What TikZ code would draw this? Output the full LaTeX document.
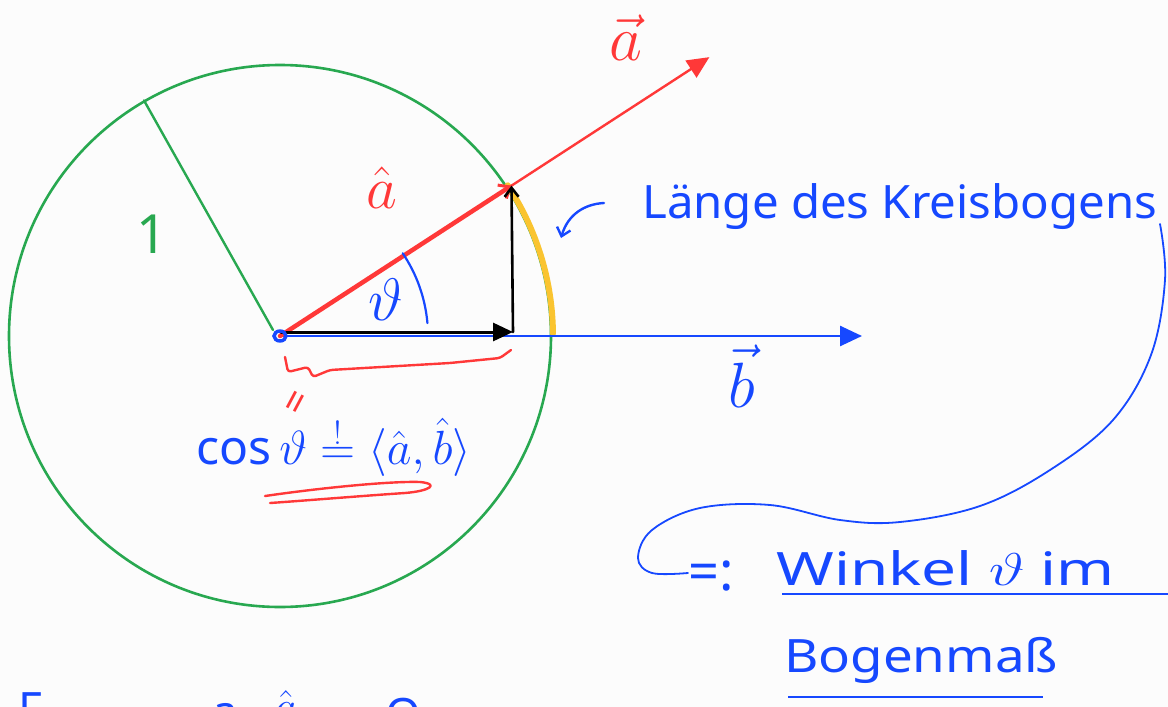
\RequirePackage{fix-cm}
\documentclass[tikz,border=0pt]{standalone}
\usepackage{fontspec}
\setmainfont{Noto Sans}
\usetikzlibrary{arrows.meta,calc}
\definecolor{hgreen}{RGB}{40,168,80}
\definecolor{hred}{RGB}{255,56,56}
\definecolor{hblue}{RGB}{22,72,255}
\definecolor{hyellow}{RGB}{250,196,48}
\definecolor{paper}{RGB}{252,252,252}
\tikzset{
  ink/.style={line cap=round, line join=round},
  bigtxt/.style={font=\fontsize{#1}{#1}\selectfont, inner sep=0pt},
  vecred/.style={ink, hred, line width=2.4pt},
}
\begin{document}
\begin{tikzpicture}[x=1pt,y=-1pt]
\useasboundingbox (0,0) rectangle (1168,707);
\clip (0,0) rectangle (1168,707);
\fill[paper] (0,0) rectangle (1168,707);

% centre and key points
\coordinate (O) at (280,336);
\coordinate (R) at ($(O)+(-120:272)$);
\coordinate (AH) at ($(O)+(-33:276)$);
\coordinate (AT) at ($(O)+(-33:512)$);
\coordinate (P) at (513,332);
\coordinate (BT) at (862,336);

% unit circle and radius
\draw[ink, hgreen, line width=2.6pt] (O) circle (271);
\draw[ink, hgreen, line width=2.4pt] (273,330) -- (R);
\node[bigtxt=54, text=hgreen] (one) at (152,234) {1};

% arc length (yellow)
\draw[ink, hyellow, line width=6pt] ($(O)+(-33.5:273)$) arc[start angle=-33.5, end angle=-0.5, radius=273];

% b axis
\draw[ink, hblue, line width=2.6pt, -{Triangle[length=22pt,width=20pt]}] (O) -- (BT);

% long a vector
\draw[vecred, -{Triangle[length=22pt,width=20pt]}] (O) -- (AT);
% unit vector a-hat
\draw[ink, hred, line width=4.5pt, -{Straight Barb[length=9pt,width=16pt,line width=3pt]}] (O) -- (AH);

% projection
\draw[ink, black, line width=3pt, -{Triangle[length=20pt,width=18pt]}] (281,332) -- (P);
\draw[ink, black, line width=2.6pt, -{Straight Barb[length=9pt,width=14pt]}] (P) -- (AH);

% angle
\draw[ink, hblue, line width=2.2pt] ($(O)+(-34:148)$) arc[start angle=-34, end angle=-5, radius=148];
\node[bigtxt=60, text=hblue] (th) at (386,300) {$\vartheta$};

% centre dot
\draw[hblue, line width=3.4pt] (O) ellipse (6 and 5);

% labels
\node[bigtxt=60, text=hred] (ahat) at (382,188) {$\hat a$};
\node[bigtxt=64, text=hred] (avec) at (626,38) {$\vec a$};
\node[bigtxt=64, text=hblue] (bvec) at (742,376) {$\vec b$};

% brace under projection
\draw[ink, hred, line width=2.4pt, rounded corners=3pt]
  (285,357) -- (288,372) -- (308,367) -- (313,377) -- (330,370) -- (450,363) -- (500,358) -- (511,350);
\node[bigtxt=40, text=hred, rotate=62] (eq) at (299,404) {=};

% formula
\node[bigtxt=48, text=hblue, anchor=west] (cos) at (196,447)
  {cos\,$\vartheta \stackrel{!}{=} \langle \hat a , \hat b \rangle$};
\draw[ink, hred, line width=2.4pt]
  (265,496) .. controls (320,488) and (390,481) .. (420,482)
  .. controls (440,484) and (430,491) .. (405,493)
  .. controls (360,496) and (300,501) .. (270,503);

% arc-length note
\coordinate (L1) at (604,203);
\coordinate (L2) at (561,238);
\draw[ink, hblue, line width=2.4pt, -{Straight Barb[length=8pt,width=14pt]}]
  (L1) .. controls (585,204) and (568,214) .. (L2);
\node[bigtxt=46, text=hblue, anchor=west, xscale=1.03] (laenge) at (642,207) {Länge des Kreisbogens};

\coordinate (C1) at (1160,224);
\coordinate (C2) at (688,573);
\draw[ink, hblue, line width=1.8pt] plot[smooth, tension=0.6] coordinates
  {(C1) (1165,280) (1151,355) (1113,420) (1050,470) (980,506) (900,522) (840,520) (770,505) (700,508) (652,530) (638,558) (652,573) (C2)};

\node[bigtxt=54, text=hblue, anchor=west] (def) at (688,576) {=:};
\node[bigtxt=46, text=hblue, anchor=west, xscale=1.35] (winkel) at (776,568) {Winkel $\vartheta$ im};
\coordinate (U1) at (782,594);
\coordinate (U2) at (1168,594);
\draw[hblue, line width=2.6pt] (U1) -- (U2);
\node[bigtxt=46, text=hblue, anchor=west, xscale=1.15] (bogen) at (784,660) {Bogenmaß};
\coordinate (V1) at (788,697);
\coordinate (V2) at (1043,697);
\draw[hblue, line width=2.6pt] (V1) -- (V2);

% cut-off text at the bottom
\node[bigtxt=46, text=hblue, anchor=north west] (f1) at (18,692) {F};
\node[bigtxt=46, text=hblue, anchor=north west] (f2) at (212,703) {a};
\node[bigtxt=46, text=hblue, anchor=north west] (f3) at (274,690) {$\hat{a}$};
\node[bigtxt=46, text=hblue, anchor=north west] (f4) at (385,698) {O};
\end{tikzpicture}
\end{document}
